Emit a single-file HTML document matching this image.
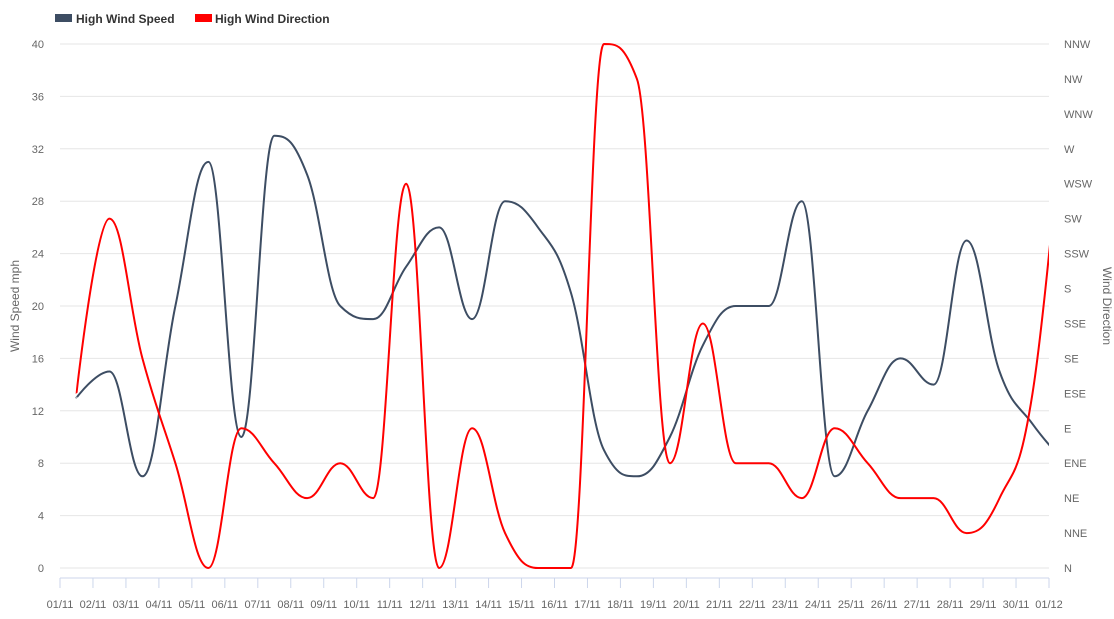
<!DOCTYPE html>
<html><head><meta charset="utf-8">
<style>
html,body{margin:0;padding:0;background:#fff;}
body{width:1114px;height:614px;overflow:hidden;font-family:"Liberation Sans",sans-serif;}
svg text{font-family:"Liberation Sans",sans-serif;}
</style></head>
<body>
<svg id="chart" width="1114" height="614" xmlns="http://www.w3.org/2000/svg">
  <g id="legend">
    <g>
      <rect x="55" y="14" width="17" height="8" fill="#3d4d63"/>
      <text x="76" y="23" font-size="12" font-weight="bold" fill="#333">High Wind Speed</text>
    </g>
    <g>
      <rect x="195" y="14" width="17" height="8" fill="#ff0000"/>
      <text x="215" y="23" font-size="12" font-weight="bold" fill="#333">High Wind Direction</text>
    </g>
  </g>
  <g id="grid"></g>
  <g id="yLeft"></g>
  <g id="yRight"></g>
  <g id="xAxis"></g>
  <text transform="translate(19,306) rotate(-90)" text-anchor="middle" font-size="12" fill="#666">Wind Speed mph</text>
  <text transform="translate(1103,306) rotate(90)" text-anchor="middle" font-size="12" fill="#666">Wind Direction</text>
  <defs><clipPath id="plotClip"><rect x="60" y="30" width="989" height="545"/></clipPath></defs>
  <g id="series" clip-path="url(#plotClip)"></g>
</svg>
<script>
const categories = ["01/11","02/11","03/11","04/11","05/11","06/11","07/11","08/11","09/11","10/11","11/11","12/11","13/11","14/11","15/11","16/11","17/11","18/11","19/11","20/11","21/11","22/11","23/11","24/11","25/11","26/11","27/11","28/11","29/11","30/11","01/12"];
const speedValues = [13,15,7,20,31,10,33,30,20,19,23,26,19,28,26,21,9,7,10,17,20,20,28,7,12,16,14,25,15,11,8];
const directionValues = [5,10,6,3,0,4,3,2,3,2,11,0,4,1,0,0,15,14,3,7,3,3,2,4,3,2,2,1,2,5,14];
const speedTicks = [0,4,8,12,16,20,24,28,32,36,40];
const directionLabels = ["N","NNE","NE","ENE","E","ESE","SE","SSE","S","SSW","SW","WSW","W","WNW","NW","NNW"];

const NS="http://www.w3.org/2000/svg";
const pTop=44,pBottom=568,pLeft=60,pRight=1049;
const step=(pRight-pLeft)/30;
function xPoint(i){return pLeft+step/2+step*i;}
function xTick(i){return pLeft+step*i;}
function ySpeed(v){return pBottom-(v/40)*(pBottom-pTop);}
function yDir(v){return pBottom-(v/15)*(pBottom-pTop);}
function mk(tag,attrs,parent){const e=document.createElementNS(NS,tag);for(const k in attrs)e.setAttribute(k,attrs[k]);parent.appendChild(e);return e;}

const grid=document.getElementById('grid'),yL=document.getElementById('yLeft'),yR=document.getElementById('yRight'),xA=document.getElementById('xAxis'),ser=document.getElementById('series');
speedTicks.forEach(t=>{
  const y=ySpeed(t);
  const g=mk('line',{x1:pLeft,x2:pRight,y1:y,y2:y,stroke:'#e6e6e6','stroke-width':1},grid);
  
  
  const tx=mk('text',{x:44,y:y+4,'text-anchor':'end','font-size':11,fill:'#666'},yL);
  tx.textContent=t;
  
  
});
directionLabels.forEach((d,i)=>{
  const tx=mk('text',{x:1064,y:yDir(i)+4,'font-size':11,fill:'#666'},yR);
  tx.textContent=d;
  
  
});
const axl=mk('line',{x1:pLeft,x2:pRight,y1:578,y2:578,stroke:'#ccd6eb','stroke-width':1},xA);


for(let i=0;i<=30;i++){
  const t=mk('line',{x1:xTick(i),x2:xTick(i),y1:578,y2:588,stroke:'#ccd6eb','stroke-width':1},xA);
  
  
}
categories.forEach((c,i)=>{
  const tx=mk('text',{x:xTick(i),y:608,'text-anchor':'middle','font-size':11,fill:'#666'},xA);
  tx.textContent=c;
  
  
});

function splinePath(pts){
  const sm=1.5,den=sm+1;
  let d='M'+pts[0][0]+','+pts[0][1];
  const ctrl=[];
  for(let i=0;i<pts.length;i++){
    const x=pts[i][0],y=pts[i][1];
    if(i===0||i===pts.length-1){ctrl.push([x,y,x,y]);continue;}
    const lx=pts[i-1][0],ly=pts[i-1][1],nx=pts[i+1][0],ny=pts[i+1][1];
    let lcx=(sm*x+lx)/den,lcy=(sm*y+ly)/den,rcx=(sm*x+nx)/den,rcy=(sm*y+ny)/den;
    if(rcx!==lcx){const c=((rcy-lcy)*(rcx-x))/(rcx-lcx)+y-rcy;lcy+=c;rcy+=c;}
    if(lcy>ly&&lcy>y){lcy=Math.max(ly,y);rcy=2*y-lcy;}else if(lcy<ly&&lcy<y){lcy=Math.min(ly,y);rcy=2*y-lcy;}
    if(rcy>ny&&rcy>y){rcy=Math.max(ny,y);lcy=2*y-rcy;}else if(rcy<ny&&rcy<y){rcy=Math.min(ny,y);lcy=2*y-rcy;}
    ctrl.push([lcx,lcy,rcx,rcy]);
  }
  for(let i=1;i<pts.length;i++){
    const a=ctrl[i-1],b=ctrl[i];
    d+=' C'+a[2].toFixed(2)+','+a[3].toFixed(2)+' '+b[0].toFixed(2)+','+b[1].toFixed(2)+' '+pts[i][0].toFixed(2)+','+pts[i][1].toFixed(2);
  }
  return d;
}
const sp=mk('path',{d:splinePath(speedValues.map((v,i)=>[xPoint(i),ySpeed(v)])),fill:'none',stroke:'#3d4d63','stroke-width':2},ser);


const dp=mk('path',{d:splinePath(directionValues.map((v,i)=>[xPoint(i),yDir(v)])),fill:'none',stroke:'#ff0000','stroke-width':2},ser);


</script>
</body></html>
